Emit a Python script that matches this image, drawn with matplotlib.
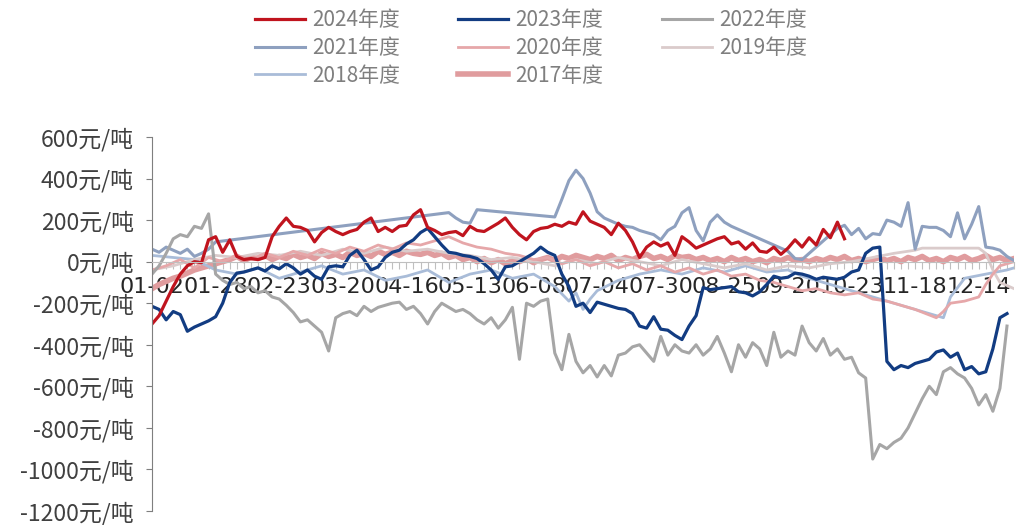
import numpy as np
import matplotlib
matplotlib.use("Agg")
import matplotlib.pyplot as plt
from matplotlib.ticker import FuncFormatter

plt.rcParams["font.family"] = ["Noto Sans CJK SC", "DejaVu Sans"]
plt.rcParams["axes.unicode_minus"] = False

# 横轴: 交易日序号, 每 9 个交易日标一个日期
n_days = 123
tick_step = 9
tick_labels = ["01-02", "01-28", "02-23", "03-20", "04-16", "05-13", "06-08",
               "07-04", "07-30", "08-25", "09-20", "10-23", "11-18", "12-14"]

# 各年度价差 (元/吨)
val_2024 = [-300, -260, -190, -120, -60, -20, 0, -5, 105, 120,
            45, 105, 25, 10, 15, 10, 20, 120, 170, 210,
            170, 165, 150, 95, 140, 165, 145, 130, 145, 155,
            190, 210, 145, 165, 145, 170, 175, 225, 250, 165,
            150, 130, 140, 145, 125, 170, 150, 145, 165, 185,
            210, 165, 130, 105, 145, 160, 165, 180, 170, 190,
            180, 240, 195, 180, 165, 130, 185, 150, 95, 20,
            70, 95, 75, 90, 30, 120, 95, 65, 80, 95,
            110, 120, 85, 95, 60, 90, 50, 45, 70, 35,
            65, 105, 70, 115, 80, 155, 115, 190, 110]

val_2023 = [-215, -230, -280, -240, -255, -335, -315, -300, -285, -265,
            -200, -100, -55, -50, -40, -30, -45, -20, -35, -10,
            -30, -60, -40, -70, -85, -25, -20, -25, 30, 55,
            10, -40, -25, 20, 45, 55, 85, 105, 140, 160,
            120, 80, 45, 40, 30, 25, 15, -10, -40, -85,
            -25, -20, 0, 20, 40, 70, 45, 30, -60, -120,
            -215, -200, -245, -195, -205, -215, -225, -230, -250, -310,
            -320, -265, -325, -330, -355, -375, -310, -260, -125, -135,
            -130, -125, -120, -145, -150, -165, -145, -110, -70, -80,
            -75, -55, -60, -70, -85, -75, -80, -85, -75, -50,
            -40, 40, 65, 70, -480, -520, -500, -510, -490, -480,
            -470, -435, -425, -460, -440, -520, -505, -540, -530, -420,
            -270, -250]

val_2022 = [-60, -20, 40, 110, 130, 120, 170, 160, 230, -60,
            -90, -110, -100, -130, -120, -150, -140, -170, -180, -210,
            -245, -290, -280, -310, -340, -430, -270, -250, -240, -260,
            -215, -240, -220, -210, -200, -195, -230, -215, -250, -300,
            -240, -200, -220, -240, -230, -250, -280, -300, -270, -320,
            -280, -220, -470, -200, -215, -190, -180, -440, -520, -350,
            -480, -535, -500, -555, -500, -550, -450, -440, -410, -400,
            -440, -480, -360, -450, -400, -430, -440, -400, -450, -420,
            -360, -440, -530, -400, -460, -390, -420, -500, -340, -460,
            -430, -450, -310, -390, -430, -370, -450, -420, -470, -460,
            -535, -560, -950, -880, -900, -870, -850, -800, -730, -660,
            -600, -640, -530, -510, -540, -560, -610, -690, -640, -720,
            -610, -310]

idx_2021 = [0, 1, 2, 3, 4, 5, 6, 7, 8, 9,
            42, 43, 44, 45, 46,
            57, 58, 59, 60, 61, 62, 63, 64, 65, 66, 67, 68, 69,
            70, 71, 72, 73, 74, 75, 76, 77, 78, 79, 80, 81, 82,
            90, 91, 92,
            97, 98, 99, 100, 101, 102, 103, 104, 105, 106, 107, 108, 109,
            110, 111, 112, 113, 114, 115, 116, 117, 118, 119, 120, 121, 122]
val_2021 = [60, 45, 70, 55, 40, 60, 25, 40, 60, 95,
            236, 210, 190, 185, 250,
            215, 300, 390, 440, 400, 330, 240, 210, 195, 180, 170, 165, 150,
            140, 130, 105, 150, 170, 235, 260, 150, 100, 190, 225, 190, 170,
            50, 15, 10,
            160, 175, 130, 160, 110, 135, 130, 200, 190, 170, 284, 60, 170,
            165, 165, 150, 120, 235, 110, 180, 265, 70, 65, 55, 25, 5]

idx_2020 = list(range(0, 105, 2)) + [108, 111, 112, 113, 115, 117, 118, 119, 120, 121, 122]
val_2020 = [-40, -20, 10, -30, 20, 0, 30, 10, 40, 20,
            50, 30, 60, 40, 70, 50, 80, 60, 90, 80,
            100, 120, 90, 70, 60, 40, 30, 10, 20, -10,
            10, -20, 0, -30, -10, -40, -20, -50, -30, -60,
            -40, -70, -60, -90, -100, -120, -140, -130, -150, -160,
            -150, -180, -190,
            -230, -270, -240, -200, -190, -170, -110, -60, -20, -10, 0]

idx_2019 = list(range(0, 109, 3)) + [109, 117, 118, 119, 120, 122]
val_2019 = [-40, -20, 10, 30, 20, 40, 30, 50, 30, 60,
            40, 70, 50, 60, 40, 30, 10, 20, 0, -20,
            10, -10, 20, 0, -20, 10, -10, -30, -10, -40,
            -20, -30, -10, 0, 20, 40, 55,
            65, 65, 40, -40, -100, -130]

idx_2018 = [0, 3, 6, 9, 12, 15, 18, 21, 24, 27,
            30, 33, 36, 39, 42, 45, 48, 51, 54, 57,
            59, 60, 61, 62, 63, 66, 69, 72, 75, 78,
            81, 84, 87, 90, 92, 112, 113, 115, 118, 121, 122]
val_2018 = [30, 20, 10, -40, -60, -30, -80, -50, -20, -60,
            -40, -90, -70, -40, -100, -60, -40, -80, -60, -120,
            -190, -150, -230, -180, -140, -90, -60, -40, -60, -30,
            -50, -20, -50, -40, -70, -270, -170, -80, -60, -40, -30]

val_2017 = [-130, -110, -95, -80, -70, -55, -40, -30, -20, -10,
            0, 10, 25, 5, 20, 15, 30, 10, 25, 15,
            35, 20, 30, 15, 40, 25, 35, 20, 45, 30,
            40, 25, 50, 35, 45, 30, 50, 40, 35, 45,
            30, 40, 20, 30, 10, 20, 0, 15, -5, 10,
            -10, 5, 0, 15, -5, 10, 20, 5, 25, 15,
            30, 20, 10, 25, 15, 30, 5, 20, 10, 25,
            35, 15, 25, 10, 30, 20, 25, 10, 20, 5,
            15, 0, 20, 5, 15, 0, 10, -5, 15, 5,
            20, 5, 10, 0, 15, 5, 20, 10, 25, 5,
            15, 0, 10, 20, 5, 15, 0, 20, 10, 25,
            5, 15, 0, 20, 10, 25, 5, 15, 30, 10,
            20, 5, 15]

series = [
    # (label, x, y, color, linewidth)
    ("2017年度", list(range(len(val_2017))), val_2017, "#E09C9E", 4.0),
    ("2018年度", idx_2018, val_2018, "#A9BCD8", 2.0),
    ("2019年度", idx_2019, val_2019, "#DACBCB", 2.0),
    ("2020年度", idx_2020, val_2020, "#E6A7A9", 2.0),
    ("2021年度", idx_2021, val_2021, "#8EA0BF", 2.2),
    ("2022年度", list(range(len(val_2022))), val_2022, "#A6A6A6", 2.2),
    ("2023年度", list(range(len(val_2023))), val_2023, "#123C82", 2.3),
    ("2024年度", list(range(len(val_2024))), val_2024, "#C0141E", 2.3),
]

fig = plt.figure(figsize=(10.21, 5.25), dpi=100)
ax = fig.add_axes([0.1489, 0.0267, 0.8443, 0.7124])

lines = {}
for label, xs, ys, color, lw in series:
    (ln,) = ax.plot(xs, ys, color=color, lw=lw, label=label, solid_joinstyle="round")
    lines[label] = ln

ax.set_xlim(0, n_days - 1)
ax.set_ylim(-1200, 600)
ax.set_yticks(np.arange(-1200, 601, 200))
ax.yaxis.set_major_formatter(FuncFormatter(lambda v, _: f"{int(v)}元/吨"))

ax.set_xticks(range(n_days))
ax.set_xticklabels([tick_labels[i // tick_step] if i % tick_step == 0 else ""
                    for i in range(n_days)])

for side in ("top", "right"):
    ax.spines[side].set_visible(False)
ax.spines["left"].set_color("#7F7F7F")
ax.spines["bottom"].set_position(("data", 0))
ax.spines["bottom"].set_color("#BFBFBF")

ax.tick_params(axis="x", length=5, width=0.8, color="#BFBFBF", pad=6,
               labelsize=16, labelcolor="#262626")
ax.tick_params(axis="y", length=4, width=0.8, color="#7F7F7F", pad=9,
               labelsize=16.5, labelcolor="#404040")
for lbl in ax.get_xticklabels():
    lbl.set_fontfamily("DejaVu Sans")

# 图例按行排列: 3 列
order = ["2024年度", "2021年度", "2018年度",
         "2023年度", "2020年度", "2017年度",
         "2022年度", "2019年度"]
fig.legend([lines[k] for k in order], order, loc="upper center",
           bbox_to_anchor=(0.52, 1.018), ncol=3, frameon=False, fontsize=15,
           handlelength=2.4, handletextpad=0.35, columnspacing=2.8,
           labelspacing=0.27, labelcolor="#7F7F7F")

fig.savefig("out.png", dpi=100)
